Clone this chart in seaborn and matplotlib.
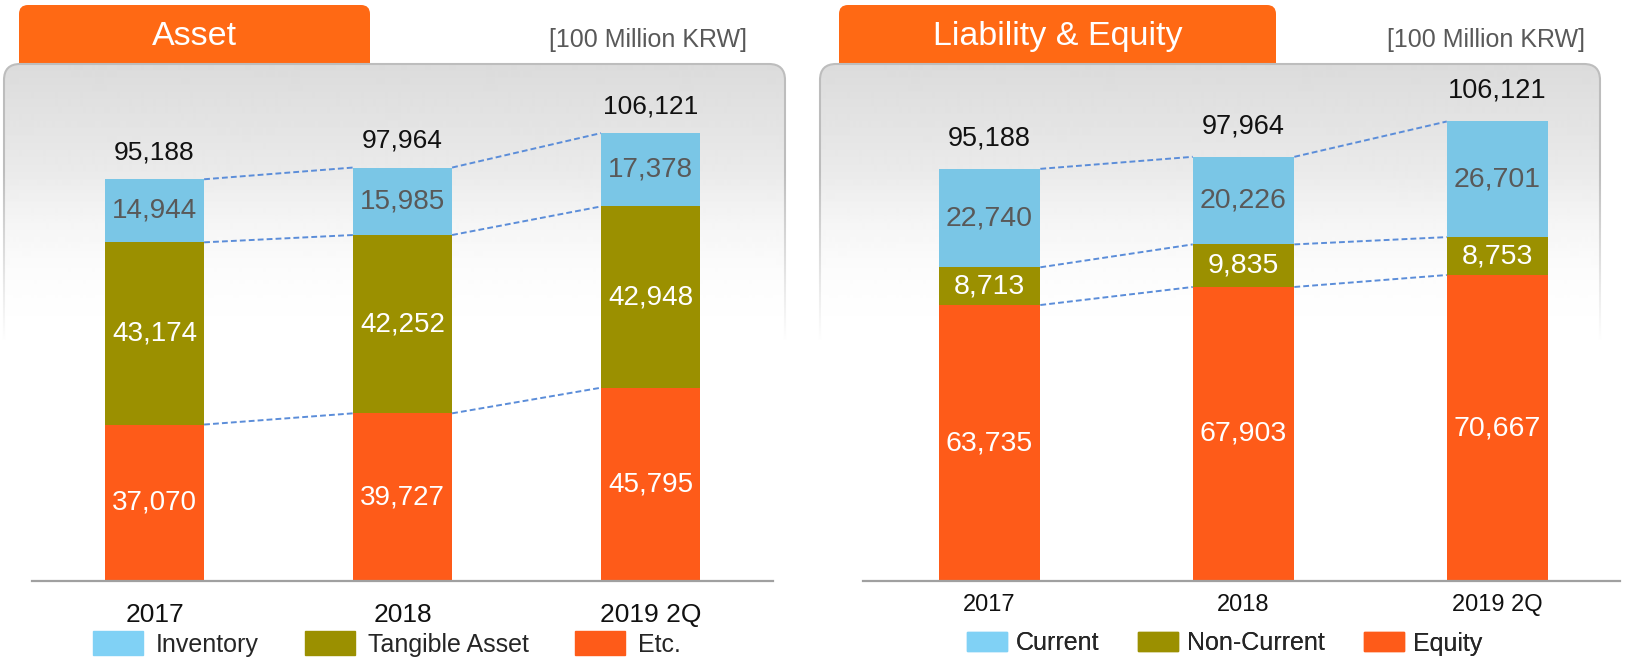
import numpy as np
import pandas as pd
import matplotlib
matplotlib.use('Agg')
import matplotlib.pyplot as plt
import seaborn as sns
from matplotlib.patches import FancyBboxPatch, Patch

# Datos (unidad: 100 Million KRW)
periods = ['2017', '2018', '2019 2Q']
inventory = [14944, 15985, 17378]
tangible = [43174, 42252, 42948]
etc_asset = [37070, 39727, 45795]
current = [22740, 20226, 26701]
non_current = [8713, 9835, 8753]
equity = [63735, 67903, 70667]

df_asset = pd.DataFrame({'period': periods, 'Etc.': etc_asset,
                         'Tangible Asset': tangible, 'Inventory': inventory})
df_liab = pd.DataFrame({'period': periods, 'Equity': equity,
                        'Non-Current': non_current, 'Current': current})

W, H = 1626, 661
BLUE = '#7AC6E6'
BLUE_LEG = '#80D1F5'
OLIVE = '#9B9000'
ORANGE = '#FE5B19'
TAB = '#FF6914'

sns.set_theme(style='white')
plt.rcParams['font.family'] = ['Liberation Sans', 'DejaVu Sans']

fig = plt.figure(figsize=(W / 100, H / 100), dpi=100)
fig.patch.set_facecolor('white')

# fondo en coordenadas de pixel
bg = fig.add_axes([0, 0, 1, 1])
bg.axis('off')


def draw_panel(x0, x1, tab_x0, tab_x1, title, krw_right):
    tab = FancyBboxPatch((tab_x0, 5), tab_x1 - tab_x0, 90,
                         boxstyle='round,pad=0,rounding_size=9',
                         fc=TAB, ec='none', zorder=1)
    bg.add_patch(tab)
    panel = FancyBboxPatch((x0, 64), x1 - x0, 530,
                           boxstyle='round,pad=0,rounding_size=16',
                           fc='none', ec='#bdbdbd', lw=1.5, zorder=3)
    bg.add_patch(panel)
    grad = np.concatenate([np.linspace(0.86, 1.0, 260), np.ones(280)])[:, None]
    im = bg.imshow(grad, extent=(x0, x1, 64 + len(grad), 64), cmap='gray',
                   vmin=0, vmax=1, aspect='auto', zorder=2,
                   interpolation='bilinear')
    im.set_clip_path(panel)
    # el borde se desvanece hacia abajo
    ys = np.arange(140, 610)
    ov = np.ones((len(ys), 1, 4))
    ov[:, 0, 3] = np.clip((ys - 170) / 170, 0, 1)
    bg.imshow(ov, extent=(x0 - 5, x1 + 5, 610, 140), aspect='auto', zorder=4)
    bg.text((tab_x0 + tab_x1) / 2, 45, title, color='white', fontsize=24.5,
            ha='center', va='baseline', zorder=6)
    bg.text(krw_right, 47, '[100 Million KRW]', color='#595959', fontsize=18,
            ha='right', va='baseline', zorder=6)


draw_panel(4, 785, 19, 370, 'Asset', 747)
draw_panel(820, 1600, 839, 1276, 'Liability & Equity', 1585)
bg.set_xlim(0, W)
bg.set_ylim(H, 0)


def draw_bars(px_left, px_right, xlim, ytop, df, cols, colors, txt_colors,
              val_fs, total_fs, total_off, tick_fs, tick_pad):
    rect = [px_left / W, (H - 581) / H, (px_right - px_left) / W, (581 - 64) / H]
    ax = fig.add_axes(rect)
    ax.patch.set_alpha(0)
    cum = df[cols].cumsum(axis=1)
    w = 0.4
    for col, color in reversed(list(zip(cols, colors))):
        sns.barplot(x=df['period'], y=cum[col], color=color, width=w,
                    saturation=1, linewidth=0, ax=ax, zorder=2)
    # líneas punteadas entre barras
    for col in cols:
        for i in range(len(df) - 1):
            ax.plot([i + w / 2, i + 1 - w / 2], [cum[col][i], cum[col][i + 1]],
                    color='#5B8DD9', lw=1.4, ls=(0, (3, 1.6)), zorder=3)
    # valores de cada segmento
    for col, tc in zip(cols, txt_colors):
        for i, v in enumerate(df[col]):
            ax.text(i, cum[col][i] - v / 2, f'{v:,}', ha='center', va='center',
                    color=tc, fontsize=val_fs, zorder=4)
    totals = cum[cols[-1]]
    for i, t in enumerate(totals):
        ax.annotate(f'{t:,}', (i, t), xytext=(0, total_off),
                    textcoords='offset points', ha='center', va='center',
                    fontsize=total_fs, color='#111111')
    ax.set_xlim(*xlim)
    ax.set_ylim(0, ytop)
    ax.set_yticks([])
    ax.set_xlabel('')
    ax.set_ylabel('')
    for s in ['left', 'right', 'top']:
        ax.spines[s].set_visible(False)
    ax.spines['bottom'].set_color('#a0a0a0')
    ax.spines['bottom'].set_linewidth(1.6)
    ax.tick_params(axis='x', length=0, pad=tick_pad, labelsize=tick_fs,
                   labelcolor='#111111')
    return ax


ax1 = draw_bars(32, 773, (-0.494, 2.494), 122500, df_asset,
                ['Etc.', 'Tangible Asset', 'Inventory'],
                [ORANGE, OLIVE, BLUE], ['white', 'white', '#595959'],
                20, 19, 19.5, 19, 15.5)
ax2 = draw_bars(863, 1620, (-0.498, 2.482), 119400, df_liab,
                ['Equity', 'Non-Current', 'Current'],
                [ORANGE, OLIVE, BLUE], ['white', 'white', '#595959'],
                20.5, 19.5, 22, 17, 9.5)

# leyendas
h1 = [Patch(color=BLUE_LEG, label='Inventory'),
      Patch(color=OLIVE, label='Tangible Asset'),
      Patch(color=ORANGE, label='Etc.')]
bg.legend(handles=h1, loc='center left', bbox_to_anchor=(93, 644),
          bbox_transform=bg.transData, ncol=3, frameon=False, fontsize=18,
          handlelength=2.0, handleheight=1.04, handletextpad=0.52,
          columnspacing=1.85, borderpad=0, borderaxespad=0)
h2 = [Patch(color=BLUE_LEG, label='Current'),
      Patch(color=OLIVE, label='Non-Current'),
      Patch(color=ORANGE, label='Equity')]
leg2 = plt.legend(handles=h2, loc='center left', bbox_to_anchor=(967, 643.5),
                  bbox_transform=bg.transData, ncol=3, frameon=False, fontsize=18,
                  handlelength=1.6, handleheight=0.8, handletextpad=0.36,
                  columnspacing=1.55, borderpad=0, borderaxespad=0)
fig.add_artist(leg2)

fig.savefig('out.png', dpi=100, facecolor='white')
